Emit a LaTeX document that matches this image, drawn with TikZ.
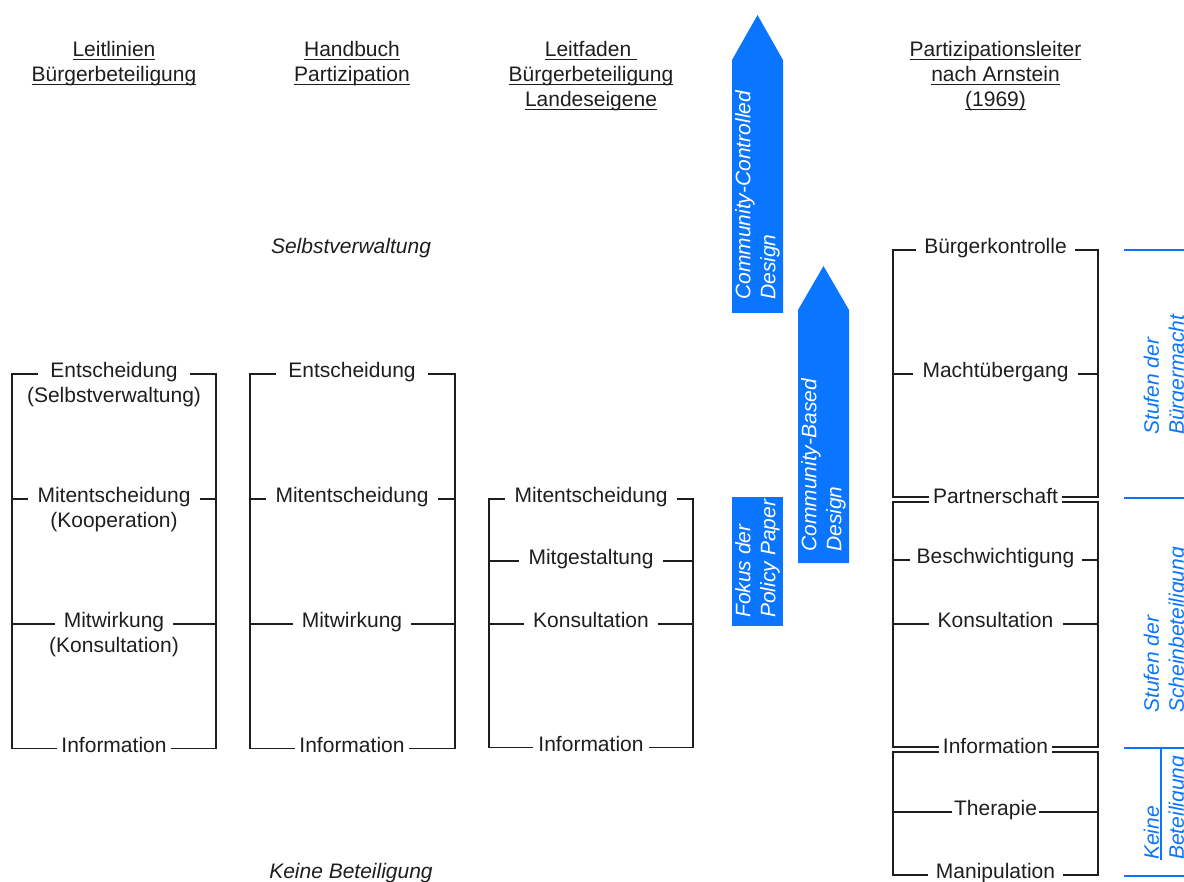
\documentclass[tikz,border=0pt]{standalone}
\usepackage{fontspec}
\setmainfont{Liberation Sans}
\usetikzlibrary{positioning}
\definecolor{ink}{HTML}{1E1E1E}
\definecolor{accent}{HTML}{0A75FF}
\newcommand{\bodyfont}{\fontsize{21}{25}\selectfont}
\newcommand{\hdul}[1]{\setbox0\hbox{#1}\rlap{\rule[-3.5pt]{\wd0}{1.2pt}}\box0}
\begin{document}
\begin{tikzpicture}[x=1pt,y=-1pt,
    every node/.style={font=\bodyfont,text=ink},
    lvl/.style={inner xsep=9pt,inner ysep=0pt,text height=16pt,text depth=8.9pt},
    tight/.style={lvl,inner xsep=4pt},
    rung/.style={draw=ink,line width=1.5pt},
    head/.style={align=center,anchor=north,inner sep=0pt},
    tag/.style={rotate=90,anchor=west,align=left,inner sep=0pt,font=\bodyfont\itshape},
    band/.style={draw=accent,line width=2pt}]
  \useasboundingbox (0,0) rectangle (1184,882);
  % Leitlinien
  \begin{scope}[shift={(12,0)}]
    \node[head] (c1h) at (102,41) {\hdul{Leitlinien}\\\hdul{Bürgerbeteiligung}};
    \node[lvl,inner xsep=12pt] (c1a) at (102,374) {Entscheidung};
    \node[lvl,below=0pt of c1a] (c1a2) {(Selbstverwaltung)};
    \node[lvl] (c1b) at (102,499) {Mitentscheidung};
    \node[lvl,below=0pt of c1b] (c1b2) {(Kooperation)};
    \node[lvl] (c1c) at (102,624) {Mitwirkung};
    \node[lvl,below=0pt of c1c] (c1c2) {(Konsultation)};
    \node[tight] (c1d) at (102,748.5) {Information};
    \draw[rung] (c1a.west) -- (0,374) -- (0,748.5) -- (c1d.west);
    \draw[rung] (c1a.east) -- (204,374) -- (204,748.5) -- (c1d.east);
    \draw[rung] (0,499) -- (c1b.west) (c1b.east) -- (204,499);
    \draw[rung] (0,624) -- (c1c.west) (c1c.east) -- (204,624);
  \end{scope}
  % Handbuch
  \begin{scope}[shift={(250,0)}]
    \node[head] (c2h) at (102,41) {\hdul{Handbuch}\\\hdul{Partizipation}};
    \node[lvl,inner xsep=12pt] (c2a) at (102,374) {Entscheidung};
    \node[lvl] (c2b) at (102,499) {Mitentscheidung};
    \node[lvl] (c2c) at (102,624) {Mitwirkung};
    \node[tight] (c2d) at (102,748.5) {Information};
    \draw[rung] (c2a.west) -- (0,374) -- (0,748.5) -- (c2d.west);
    \draw[rung] (c2a.east) -- (205,374) -- (205,748.5) -- (c2d.east);
    \draw[rung] (0,499) -- (c2b.west) (c2b.east) -- (205,499);
    \draw[rung] (0,624) -- (c2c.west) (c2c.east) -- (205,624);
  \end{scope}
  % Leitfaden
  \begin{scope}[shift={(489,0)}]
    \node[head] (c3h) at (102,41) {\hdul{Leitfaden\ }\\\hdul{Bürgerbeteiligung}\\\hdul{Landeseigene}};
    \node[lvl] (c3a) at (102,499) {Mitentscheidung};
    \node[lvl] (c3b) at (102,561) {Mitgestaltung};
    \node[lvl] (c3c) at (102,624) {Konsultation};
    \node[tight,inner xsep=5pt] (c3d) at (102,747.5) {Information};
    \draw[rung] (c3a.west) -- (0,499) -- (0,747.5) -- (c3d.west);
    \draw[rung] (c3a.east) -- (204,499) -- (204,747.5) -- (c3d.east);
    \draw[rung] (0,561) -- (c3b.west) (c3b.east) -- (204,561);
    \draw[rung] (0,624) -- (c3c.west) (c3c.east) -- (204,624);
  \end{scope}
  % Arnstein
  \begin{scope}[shift={(893,0)}]
    \node[head] (c4h) at (102.5,41) {\hdul{Partizipationsleiter}\\\hdul{nach Arnstein}\\\hdul{(1969)}};
    \node[lvl,inner xsep=8pt] (c4a) at (102.5,250) {Bürgerkontrolle};
    \node[lvl] (c4b) at (102.5,374) {Machtübergang};
    \node[tight] (c4c) at (102.5,499.5) {Partnerschaft};
    \node[lvl,inner xsep=7pt] (c4d) at (102.5,560) {Beschwichtigung};
    \node[lvl] (c4e) at (102.5,624) {Konsultation};
    \node[tight] (c4f) at (102.5,749.5) {Information};
    \node[lvl,inner xsep=2pt] (c4g) at (102.5,812) {Therapie};
    \node[lvl,inner xsep=8pt] (c4h2) at (102.5,875) {Manipulation};
    \draw[rung] (c4a.west) -- (0,250) -- (0,497) -- ([yshift=2.5pt]c4c.west);
    \draw[rung] (c4a.east) -- (205,250) -- (205,497) -- ([yshift=2.5pt]c4c.east);
    \draw[rung] ([yshift=-2.5pt]c4c.west) -- (0,502) -- (0,747) -- ([yshift=2.5pt]c4f.west);
    \draw[rung] ([yshift=-2.5pt]c4c.east) -- (205,502) -- (205,747) -- ([yshift=2.5pt]c4f.east);
    \draw[rung] ([yshift=-2.5pt]c4f.west) -- (0,752) -- (0,875) -- (c4h2.west);
    \draw[rung] ([yshift=-2.5pt]c4f.east) -- (205,752) -- (205,875) -- (c4h2.east);
    \draw[rung] (0,374) -- (c4b.west) (c4b.east) -- (205,374);
    \draw[rung] (0,560) -- (c4d.west) (c4d.east) -- (205,560);
    \draw[rung] (0,624) -- (c4e.west) (c4e.east) -- (205,624);
    \draw[rung] (0,812) -- (c4g.west) (c4g.east) -- (205,812);
  \end{scope}
  % Pole
  \node[lvl,font=\bodyfont\itshape] (top) at (351,249.5) {Selbstverwaltung};
  \node[lvl,font=\bodyfont\itshape] (bot) at (351,874.5) {Keine Beteiligung};
  % Pfeile
  \fill[accent] (732,313) -- (732,60) -- (757.5,15) -- (783,60) -- (783,313) -- cycle;
  \fill[accent] (798,563) -- (798,310) -- (823.5,266) -- (849,310) -- (849,563) -- cycle;
  \fill[accent] (732,497) rectangle (783,626);
  \node[tag,text=white] (ccd) at (757.5,300) {Community-Controlled\\Design};
  \node[tag,text=white] (cbd) at (823.5,552) {Community-Based\\Design};
  \node[tag,text=white] (fok) at (757.5,618) {Fokus der\\Policy Paper};
  % Stufen
  \draw[band] (1124,250) -- (1190,250);
  \draw[band] (1124,498) -- (1190,498);
  \draw[band] (1124,748) -- (1190,748);
  \draw[band] (1124,876) -- (1190,876);
  \draw[band] (1161,748) -- (1161,860);
  \node[tag,text=accent] (s1) at (1166,435) {Stufen der\\Bürgermacht};
  \node[tag,text=accent] (s2) at (1166,713) {Stufen der\\Scheinbeteiligung};
  \node[tag,text=accent] (s3) at (1166,860) {Keine\\Beteiligung};
\end{tikzpicture}
\end{document}
